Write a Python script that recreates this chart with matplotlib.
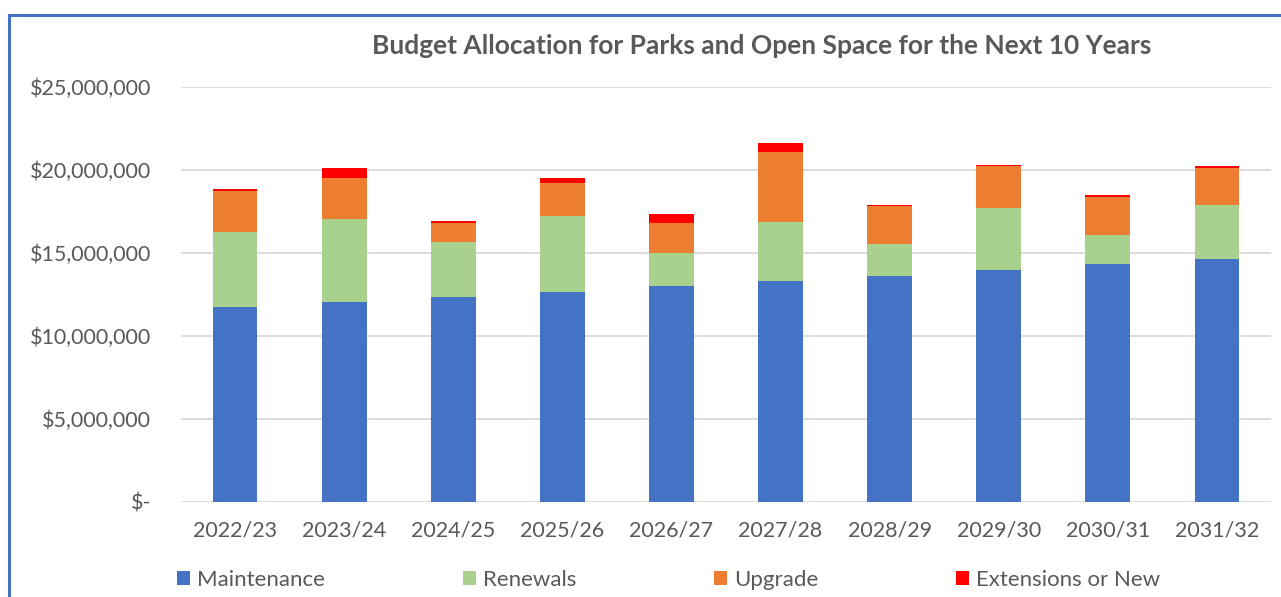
import numpy as np
import matplotlib.pyplot as plt
from matplotlib.ticker import FuncFormatter
from matplotlib.lines import Line2D

years = ['2022/23', '2023/24', '2024/25', '2025/26', '2026/27',
         '2027/28', '2028/29', '2029/30', '2030/31', '2031/32']

# budget per category, dollars
maintenance = [11760000, 12030000, 12350000, 12670000, 12990000,
               13310000, 13630000, 13960000, 14340000, 14660000]
renewals = [4510000, 5020000, 3310000, 4560000, 1990000,
            3540000, 1930000, 3750000, 1740000, 3250000]
upgrade = [2450000, 2470000, 1170000, 2000000, 1810000,
           4220000, 2250000, 2510000, 2310000, 2190000]
extensions = [120000, 580000, 80000, 290000, 580000,
              580000, 60000, 60000, 100000, 140000]

series = [('Maintenance', maintenance, '#4472C4'),
          ('Renewals', renewals, '#A9D18E'),
          ('Upgrade', upgrade, '#ED7D31'),
          ('Extensions or New', extensions, '#FF0000')]

plt.rcParams['font.family'] = ['Lato', 'DejaVu Sans']
grey = '#595959'

W, H = 1281, 597
fig = plt.figure(figsize=(W / 100, H / 100), dpi=100)
ax = fig.add_axes([180.5 / W, 1 - 502 / H, (1271.5 - 180.5) / W, (502 - 87) / H])

x = np.arange(len(years))
bottom = np.zeros(len(years))
for name, vals, col in series:
    ax.bar(x, vals, 0.41, bottom=bottom, color=col, label=name, zorder=3)
    bottom += np.array(vals)

ax.set_xlim(-0.5, len(years) - 0.5)
ax.set_ylim(0, 25000000)
ax.set_yticks(np.arange(0, 25000001, 5000000))
ax.yaxis.set_major_formatter(FuncFormatter(lambda v, p: '$-' if v == 0 else f'${v:,.0f}'))
ax.set_xticks(x)
ax.set_xticklabels(years)
ax.tick_params(axis='both', length=0, labelsize=15.5, labelcolor=grey)
ax.tick_params(axis='y', pad=21)
ax.tick_params(axis='x', pad=13)
ax.grid(axis='y', color='#D9D9D9', linewidth=1.3, zorder=0)
for s in ax.spines.values():
    s.set_visible(False)

fig.text(762 / W, 1 - 46 / H, 'Budget Allocation for Parks and Open Space for the Next 10 Years',
         ha='center', va='center', fontsize=19, fontweight='bold', color=grey)

handles, labels = ax.get_legend_handles_labels()
fig.legend(handles, labels, loc='center left', bbox_to_anchor=(177 / W, 1 - 580 / H),
           ncol=4, frameon=False, fontsize=16, labelcolor=grey,
           handlelength=0.6, handleheight=0.6, handletextpad=0.3,
           columnspacing=6.2, borderpad=0, borderaxespad=0)

# chart frame: only the left and top edges fall inside the image
fig.add_artist(Line2D([8.5 / W, 8.5 / W], [0, 1 - 14.5 / H], color='#4472C4', lw=2.2))
fig.add_artist(Line2D([8.5 / W, 1], [1 - 14.5 / H, 1 - 14.5 / H], color='#4472C4', lw=2.2))

fig.savefig('out.png', dpi=100)
